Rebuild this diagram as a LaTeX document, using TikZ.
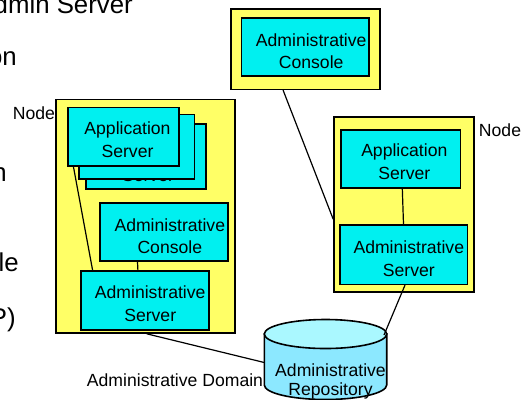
\documentclass[tikz,border=0pt]{standalone}
\usepackage{fontspec}
\setmainfont{Liberation Sans}
\usetikzlibrary{calc}
\definecolor{nodeyellow}{RGB}{255,255,102}
\definecolor{srvcyan}{RGB}{0,240,240}
\definecolor{repotop}{RGB}{170,248,255}
\definecolor{repobody}{RGB}{140,232,255}
\tikzset{
  nodebox/.style={draw, line width=1.6bp, fill=nodeyellow, inner sep=0, rectangle},
  srvbox/.style={draw, line width=1.6bp, fill=srvcyan, inner sep=0, rectangle},
  boxtext/.style={inner sep=0, anchor=north, align=center, font=\fontsize{17.6bp}{22.6bp}\selectfont},
  plaintext/.style={inner sep=0, anchor=north, font=\fontsize{17.6bp}{22.6bp}\selectfont},
  slidetext/.style={inner sep=0, anchor=base east, font=\fontsize{25.8bp}{30bp}\selectfont},
  link/.style={draw, line width=1.2bp},
}
\begin{document}
\begin{tikzpicture}[x=1bp, y=-1bp]
  \fill[white] (0,0) rectangle (523,399);
  \useasboundingbox (0,0) rectangle (523,399);
  \clip (0,0) rectangle (523,399);

  % slide text running in from the left
  \node[slidetext] (s1) at (133,13) {Admin Server};
  \node[slidetext] (s2) at (17,65) {on};
  \node[slidetext] (s3) at (7,181) {n};
  \node[slidetext] (s4) at (19,271) {le};
  \node[slidetext] (s5) at (16,326) {P)};

  % left node
  \node[nodebox, minimum width=179bp, minimum height=233.7bp] (lnode) at (145.2,216.15) {};
  \node[plaintext] (lnodelbl) at (34,106.7) {Node};
  \node[srvbox, minimum width=119.7bp, minimum height=64.7bp] (app3) at (145.85,156.35) {};
  \node[boxtext] (app3t) at (148,146) {Application\\Server};
  \node[srvbox, minimum width=115.3bp, minimum height=64.4bp] (app2) at (136.65,146.5) {};
  \node[boxtext] (app2t) at (134,128) {Application\\Server};
  \node[srvbox, minimum width=111.3bp, minimum height=58.4bp] (app1) at (123.35,136.5) {};
  \node[boxtext] (app1t) at (127.5,121.7) {Application\\Server};
  \node[srvbox, minimum width=128bp, minimum height=58.3bp] (lcon) at (164,231.85) {};
  \node[boxtext] (lcont) at (169.8,218.3) {Administrative\\Console};
  \node[srvbox, minimum width=128bp, minimum height=58.7bp] (ladm) at (145,300.35) {};
  \node[boxtext] (ladmt) at (150.2,286) {Administrative\\Server};

  % console node at the top
  \node[nodebox, minimum width=149bp, minimum height=80.3bp] (tnode) at (305.5,49.15) {};
  \node[srvbox, minimum width=127.7bp, minimum height=58.3bp] (tcon) at (305.15,46.85) {};
  \node[boxtext] (tcont) at (311.2,33.3) {Administrative\\Console};

  % right node
  \node[nodebox, minimum width=139.7bp, minimum height=175.3bp] (rnode) at (403.85,204.35) {};
  \node[plaintext] (rnodelbl) at (500,123.3) {Node};
  \node[srvbox, minimum width=119.6bp, minimum height=58bp] (rapp) at (400.5,158.7) {};
  \node[boxtext] (rappt) at (404.3,144) {Application\\Server};
  \node[srvbox, minimum width=127.6bp, minimum height=59.3bp] (radm) at (403.5,254.65) {};
  \node[boxtext] (radmt) at (408.8,241) {Administrative\\Server};

  % repository cylinder
  \filldraw[fill=repobody, line width=1.6bp]
    (264.3,334) -- (264.3,385)
    arc[start angle=180, end angle=360, x radius=61.2bp, y radius=14.5bp]
    -- (386.7,334) -- cycle;
  \filldraw[fill=repotop, line width=1.6bp]
    (325.5,334) ellipse [x radius=61.2bp, y radius=14.5bp];
  \node[boxtext, font=\fontsize{17.6bp}{19bp}\selectfont] (repo) at (330.5,363.3) {Administrative\\Repository};
  \coordinate (repoL) at (264.3,362.5);
  \coordinate (repoR) at (384,335);

  \node[plaintext] (domain) at (175,373.3) {Administrative Domain};

  % connections
  \draw[link] ($(tnode.south west)!0.351!(tnode.south east)$) -- ($(rnode.north west)!0.584!(rnode.south west)$);
  \draw[link] ($(rapp.south)+(1.8,0)$) -- (radm.north);
  \draw[link] ($(radm.south)+(1.5,0)$) -- (repoR);
  \draw[link] ($(lnode.south)+(1.5,0)$) -- (repoL);
  \draw[link] ($(app1.south west)+(6.5,0)$) -- ($(ladm.north west)+(12.4,0)$);
  \draw[link] ($(lcon.south west)+(38.3,0)$) -- ($(ladm.north west)+(57.7,0)$);
\end{tikzpicture}
\end{document}
